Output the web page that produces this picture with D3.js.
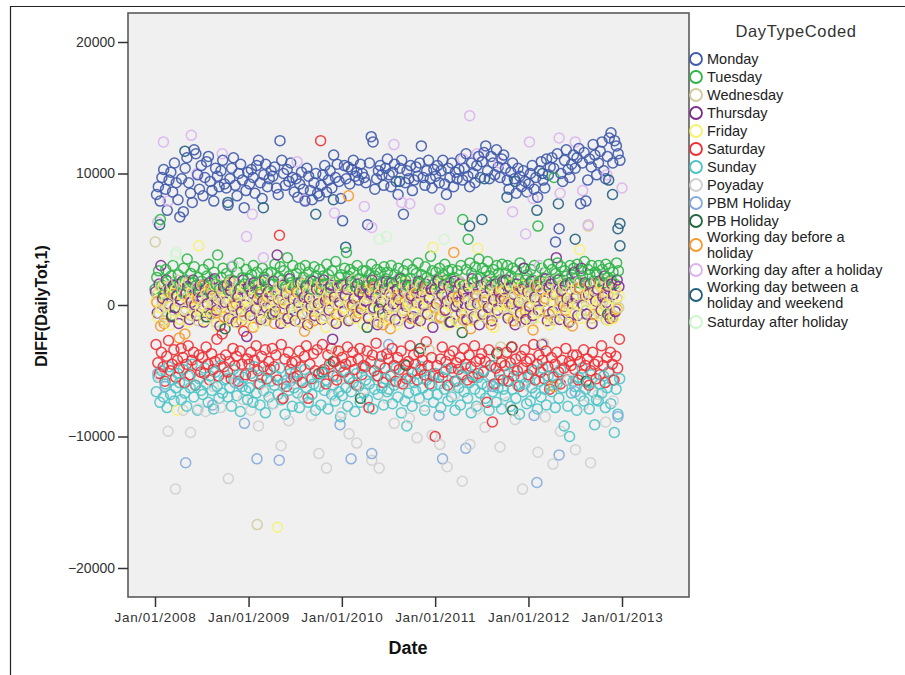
<!DOCTYPE html>
<html>
<head>
<meta charset="utf-8">
<script src="https://cdn.jsdelivr.net/npm/d3@7"></script>
<style>
  body { margin: 0; background: #fff; }
  text { font-family: "Liberation Sans", Arial, sans-serif; }
</style>
</head>
<body>
<div class="viz"></div>
<script>
// values below are in hundreds (DIFF(DailyTot,1) / 100), one per week
const monday = [
  84,90,79,97,103,88,72,95,101,86,108,93,80,
  67,96,71,104,112,93,85,78,118,115,99,88,106,
  83,97,109,113,94,87,79,104,98,90,102,110,92,
  89,76,96,104,112,91,83,100,107,95,74,87,101,
  92,103,97,85,106,110,93,81,99,107,90,96,102,
  98,105,89,84,125,110,100,91,103,94,108,97,86,
  96,82,92,101,88,79,104,98,87,80,93,100,85,
  83,91,99,106,86,95,102,89,114,97,107,94,81,
  64,106,96,105,92,103,110,98,101,95,107,100,97,
  93,61,108,128,124,88,96,102,106,99,91,104,111,
  99,90,101,107,94,84,104,110,69,93,102,96,106,
  87,95,105,98,108,121,97,91,102,110,96,89,103,
  98,106,93,102,110,92,84,104,97,108,90,101,96,
  103,111,95,104,115,98,90,108,100,93,106,113,97,
  109,116,121,102,96,113,108,99,118,105,97,111,114,
  104,95,88,101,108,96,85,104,98,90,102,94,86,
  92,100,106,88,97,82,102,109,95,89,111,99,105,
  112,104,48,115,58,100,94,110,118,103,97,107,114,
  104,112,119,77,108,116,79,95,111,105,122,114,99,
  108,117,124,102,96,113,127,131,108,125,121,115,110
];
const tuesday = [
  12,21,26,65,15,8,27,18,11,22,30,14,7,
  23,16,10,28,19,35,13,24,17,29,15,21,11,
  18,27,13,22,31,9,19,25,16,38,12,21,28,
  15,24,11,19,29,18,8,25,32,14,21,16,27,
  20,12,23,30,15,25,17,10,28,21,13,24,16,
  25,16,31,11,21,29,19,26,14,36,22,17,30,
  14,24,17,28,10,21,30,15,25,19,12,29,22,
  17,27,11,22,16,31,23,13,26,18,33,15,21,
  23,16,28,40,22,27,17,25,14,30,20,13,26,
  18,26,15,23,31,16,22,27,12,25,17,29,20,
  25,17,30,13,23,18,28,21,15,26,19,31,14,
  20,27,15,24,32,17,23,14,29,21,18,37,26,
  16,25,18,28,13,23,31,19,26,17,27,21,14,
  26,18,30,65,15,27,50,32,24,17,29,20,35,
  21,28,16,26,33,22,15,27,18,30,24,19,31,
  18,24,30,14,22,28,16,26,20,32,15,28,19,
  23,16,27,19,30,14,60,18,28,20,25,15,31,
  19,27,97,24,32,20,29,15,26,22,17,30,23,
  28,20,31,17,26,22,33,16,27,23,30,18,25,
  23,30,18,27,17,31,21,28,19,25,16,32,26
];
const wednesday = [
  48,8,-6,14,2,17,-9,10,-1,15,-4,7,19,
  3,-11,12,16,-3,6,18,-8,9,1,13,-12,5,
  15,0,-9,7,17,-4,11,2,-13,16,6,-2,9,
  -6,13,4,18,-10,1,9,15,-3,7,19,-8,3,
  11,-5,16,5,-1,-167,12,-9,17,2,-12,7,0,
  18,4,-7,9,14,-3,5,17,-11,10,1,13,-8,
  7,15,-1,-13,12,3,19,-5,9,-10,14,0,5,
  -3,10,17,4,-8,14,1,7,-12,18,-35,3,12,
  9,-6,5,15,0,-11,12,19,-4,4,10,-1,16,
  1,14,-9,7,18,-3,10,2,-13,15,5,-6,8,
  16,-8,3,12,-1,9,-12,19,5,-4,14,0,7,
  4,11,-3,17,-10,5,15,1,-6,12,-34,18,-1,
  13,-9,8,2,19,-5,7,15,-13,4,12,0,-8,
  7,18,-1,10,-12,14,3,-4,17,5,-9,12,1,
  -5,9,15,4,-11,18,0,10,-7,14,6,-32,19,
  12,1,-8,17,5,-3,9,19,-1,-13,15,3,7,
  0,15,7,-10,12,4,18,-5,10,-29,5,14,-7,
  19,2,-11,8,14,-1,5,17,-8,10,1,-12,15,
  5,12,-1,18,-7,6,15,-4,60,4,-10,10,17,
  10,-6,14,2,19,-11,8,0,15,-8,12,5,-2
];
const thursday = [
  10,-6,16,30,5,-12,19,1,12,-9,15,-2,7,
  -14,4,18,-5,9,14,-11,2,19,0,-8,10,15,
  6,-13,12,1,17,-7,7,20,-4,4,-16,9,14,
  2,15,-10,11,-1,18,-13,6,12,-5,19,0,-24,
  14,-8,9,17,-3,5,12,-11,3,19,-2,10,-7,
  7,18,-5,38,4,-14,15,1,9,-10,20,-3,5,
  -12,10,2,17,-7,6,14,-15,5,-1,18,-8,12,
  1,12,-11,19,3,9,-4,15,-26,6,-14,13,2,
  15,-5,7,12,-12,18,0,5,-9,16,10,-3,8,
  3,14,-10,10,19,-2,6,-15,15,2,-7,12,18,
  -3,9,17,1,-11,12,4,20,-6,10,-1,15,-14,
  7,-9,13,2,18,-12,10,0,16,-7,5,12,-17,
  12,1,19,-10,8,15,-4,3,14,-13,6,18,-1,
  2,16,-6,10,5,-11,13,0,20,-9,8,1,-15,
  15,-7,6,18,-2,12,-12,4,16,-4,10,5,18,
  5,19,-10,13,1,8,-15,16,2,-6,12,28,-11,
  10,-1,18,-8,6,15,-4,12,-30,3,20,-12,13,
  16,-5,8,36,19,-11,11,-1,15,5,-13,17,1,
  25,6,-8,13,28,0,17,-7,8,16,-14,10,3,
  12,18,-4,6,22,2,14,-10,16,8,-5,19,14
];
const friday = [
  3,-9,11,-2,14,-12,5,-1,-15,9,-5,12,-80,
  1,-11,7,-6,16,-13,3,10,-3,-8,5,45,-4,
  -1,-12,9,-5,13,-8,2,15,-16,5,-3,11,-10,
  7,-6,16,-12,3,-2,11,-14,0,9,-9,14,-4,
  -2,5,-10,12,-15,3,9,-6,17,-11,1,7,-8,
  11,-4,0,-169,5,14,-10,2,-13,7,-2,13,-6,
  3,-12,9,-2,16,-8,0,11,-15,5,-4,14,1,
  -6,13,-10,3,-17,7,11,-2,5,-13,1,16,-8,
  9,-2,14,-12,3,0,-6,13,-10,7,-4,11,-15,
  1,-8,5,16,-4,11,-13,0,9,-6,14,-11,3,
  -10,7,-2,13,5,-15,1,11,-4,17,-8,3,0,
  13,-6,9,-12,0,15,-2,7,-14,3,11,-8,44,
  -4,11,1,-10,17,-6,7,-15,0,13,-2,5,-12,
  5,-14,15,0,-8,9,-4,17,-12,1,13,43,-6,
  -8,3,11,-2,15,-10,5,-17,9,0,-6,13,1,
  11,-4,0,16,-12,7,-2,13,-8,3,15,-10,5,
  -2,9,-14,5,15,-6,0,11,-10,17,-4,7,-15,
  7,-12,3,13,-2,9,-8,15,0,-14,5,11,-4,
  -6,13,1,42,-10,16,-4,7,11,-15,2,9,-2,
  3,-8,15,-4,11,0,-12,17,5,-10,13,-2,7
];
const saturday = [
  -30,-44,-52,-36,-47,-58,-39,-27,-50,-45,-34,-55,-42,
  -48,-33,-40,-59,-45,-31,-53,-42,-36,-61,-46,-38,-51,
  -40,-52,-32,-45,-57,-37,-49,-43,-26,-54,-41,-22,-47,
  -38,-51,-43,-56,-33,-46,-39,-58,-35,-45,-20,-53,-41,
  -45,-36,-54,-42,-31,-50,-60,-39,-47,-34,-56,-43,-49,
  -33,-47,-38,-57,53,-30,-71,-41,-62,-36,-49,-44,-55,
  -43,-54,-35,-47,-59,-39,-31,-71,-45,-56,-37,-50,-34,
  -52,125,-30,-49,-60,-38,-45,-33,-54,-43,-57,-35,-47,
  -40,-51,-45,-32,-56,-43,-36,-49,-61,-41,-33,-53,-46,
  -47,-35,-78,-43,-38,-50,-29,-54,-45,-39,-59,-48,-37,
  -41,-54,-33,-46,-58,-40,-49,-35,-60,-45,-56,-43,-31,
  -51,-38,-45,-57,-36,-49,-42,-53,-28,-46,-60,-40,-54,
  -100,-46,-55,-41,-32,-51,-43,-61,-38,-48,-35,-58,-44,
  -49,-40,-53,-33,-45,-57,-38,-47,-55,-31,-43,-52,-41,
  -37,-51,-43,-74,-34,-46,-89,-60,-48,-36,-53,-44,-57,
  -46,-36,-58,-44,-32,-54,-41,-50,-62,-39,-48,-34,-43,
  -53,-41,-49,-30,-57,-45,-38,-51,-42,-56,-35,-47,-64,
  -40,-55,-45,-36,-51,-60,-42,-48,-33,-57,-43,-46,-38,
  -49,-38,-57,-43,-53,-34,-46,-41,-61,-50,-36,-45,-56,
  -43,-53,-31,-46,-59,-40,-51,-36,-45,-57,-39,-48,-26
];
const sunday = [
  -66,-55,-74,-50,-70,-60,-78,-47,-68,-57,-73,-63,-52,
  -59,-72,-49,-67,-77,-54,-63,-45,-70,-61,-80,-56,-65,
  -68,-48,-60,-74,-54,-65,-79,-51,-62,-71,-46,-67,-57,
  -56,-70,-63,-77,-49,-59,-69,-53,-81,-62,-55,-65,-72,
  -63,-52,-74,-47,-67,-60,-76,-55,-65,-82,-50,-70,-58,
  -75,-61,-54,-68,-48,-72,-60,-83,-57,-65,-52,-77,-63,
  -51,-67,-78,-58,-70,-49,-63,-74,-55,-68,-60,-80,-53,
  -62,-76,-52,-65,-57,-79,-47,-68,-61,-73,-54,-66,-85,
  -69,-50,-63,-77,-55,-66,-59,-81,-52,-62,-74,-48,-67,
  -57,-72,-60,-51,-79,-64,-54,-68,-45,-63,-76,-56,-66,
  -64,-53,-75,-61,-48,-70,-59,-82,-51,-73,-92,-67,-56,
  -77,-59,-65,-52,-71,-47,-63,-80,-57,-68,-54,-61,-74,
  -52,-68,-60,-78,-55,-64,-49,-73,-62,-70,-51,-80,-58,
  -63,-76,-54,-66,-48,-71,-59,-82,-53,-64,-77,-55,-67,
  -60,-50,-71,-62,-80,-54,-66,-46,-74,-63,-57,-79,-64,
  -69,-58,-52,-77,-64,-49,-71,-61,-83,-55,-66,-60,-75,
  -55,-73,-63,-50,-67,-79,-58,-70,-48,-64,-76,-54,-61,
  -66,-54,-78,-60,-71,-49,-63,-92,-57,-77,-100,-67,-58,
  -62,-80,-55,-69,-48,-73,-64,-59,-79,-53,-66,-91,-72,
  -73,-60,-67,-54,-78,-63,-51,-75,-57,-97,-64,-83,-56
];
// one per full moon, Jan 2008 .. Jan 2013
const poyaday = [
  -55,-96,-140,-80,-97,-79,-81,-62,-78,-132,-58,-72,
  -80,-92,-66,-75,-107,-88,-60,-70,-84,-113,-124,-69,
  -82,-98,-105,-64,-118,-124,-71,-90,-59,-86,-101,-77,
  -99,-106,-123,-68,-134,-106,-79,-93,-62,-108,-74,-87,
  -140,-63,-112,-85,-121,-96,-57,-110,-76,-120,-68,-89,-73
];
// sparse day types: decimal year + value (hundreds)
const pbmYears  = [2008.03,2008.11,2008.33,2008.62,2008.9,2008.96,2009.09,2009.33,2009.45,2009.98,2010.1,2010.32,2010.5,2011.04,2011.08,2011.33,2011.62,2012.06,2012.09,2012.33,2012.5,2012.96];
const pbmValues = [-52,-62,-120,-76,-60,-90,-117,-118,-58,-91,-117,-113,-30,-84,-117,-109,-62,-84,-135,-114,-66,-85];
const pbYears   = [2008.18,2008.75,2009.26,2009.79,2009.91,2010.2,2010.27,2010.69,2010.84,2011.16,2011.29,2011.66,2011.82,2011.83,2012.62,2012.85,2008.55,2010.4];
const pbValues  = [-8,-18,-7,-51,-43,-71,-17,-46,-33,-13,-21,-37,-32,-80,-58,-7,-9,-3];
const beforeYears = [
  2008.02,2008.06,2008.1,2008.15,2008.2,2008.26,2008.32,2008.38,2008.46,2008.52,2008.6,2008.66,2008.74,2008.8,2008.87,2008.93,
  2009.05,2009.12,2009.2,2009.28,2009.38,2009.45,2009.52,2009.6,2009.7,2009.78,2009.86,2009.94,
  2010.07,2010.12,2010.18,2010.26,2010.35,2010.44,2010.52,2010.6,2010.68,2010.74,2010.8,2010.9,
  2011.0,2011.06,2011.2,2011.25,2011.3,2011.38,2011.45,2011.52,2011.6,2011.7,2011.78,2011.84,2011.9,2011.97,
  2012.05,2012.1,2012.18,2012.22,2012.27,2012.34,2012.4,2012.47,2012.55,2012.62,2012.7,2012.76,2012.82,2012.9,2012.95];
const beforeValues = [
  2,-16,-14,10,8,-25,-22,5,5,15,12,-6,-9,18,1,-12,
  -17,8,6,-14,-3,12,10,-20,-12,16,4,-7,
  83,-1,-6,11,14,-15,-18,7,3,-10,9,13,
  -2,-9,40,6,-11,-18,7,2,-15,10,2,-12,11,-5,
  -19,14,5,-7,-62,3,-4,-16,13,8,-7,17,8,-10,-3];
const afterYears  = [2008.03,2008.09,2008.14,2008.39,2008.45,2008.72,2008.84,2008.98,2009.04,2009.16,2009.52,2009.6,2009.92,2010.24,2010.32,2010.56,2010.64,2010.73,2011.05,2011.3,2011.37,2011.45,2011.69,2011.83,2011.97,2012.01,2012.05,2012.12,2012.33,2012.34,2012.5,2012.58,2012.64,2012.84,2013.0];
const afterValues = [63,124,79,129,100,115,30,52,69,36,109,80,70,75,59,122,78,77,73,111,144,115,108,71,54,124,81,30,127,85,124,87,61,99,89];
const betweenYears  = [2008.05,2008.32,2008.78,2009.16,2009.72,2009.91,2010.04,2010.62,2011.37,2011.5,2011.53,2011.77,2011.86,2012.09,2012.15,2012.32,2012.5,2012.86,2012.9,2012.96,2012.98,2012.98];
const betweenValues = [61,117,78,74,69,80,44,94,60,65,96,82,94,72,100,77,50,95,84,58,62,45];
const satAfterYears  = [2008.22,2008.23,2008.94,2009.5,2010.4,2010.48,2011.1,2011.4,2011.7,2012.2,2012.6];
const satAfterValues = [38,40,29,-3,50,52,50,2,-40,31,-5];

const dayTypes = ["Monday","Tuesday","Wednesday","Thursday","Friday","Saturday","Sunday","Poyaday",
  "PBM Holiday","PB Holiday","Working day before a holiday","Working day after a holiday",
  "Working day between a holiday and weekend","Saturday after holiday"];
const colors = ["#3f59ab","#2fb548","#d2cc9c","#7e2c8f","#f7f26a","#ee3035","#4cc4c6","#cfcfcf",
  "#84aadb","#23683c","#f59a2c","#dcb2ef","#20607e","#cdf6cd"];
const legendLines = [["Monday"],["Tuesday"],["Wednesday"],["Thursday"],["Friday"],["Saturday"],["Sunday"],
  ["Poyaday"],["PBM Holiday"],["PB Holiday"],["Working day before a","holiday"],["Working day after a holiday"],
  ["Working day between a","holiday and weekend"],["Saturday after holiday"]];
const xTickYears = [2008,2009,2010,2011,2012,2013];
const yTicks = [-20000,-10000,0,10000,20000];

const W = 905, H = 675;
const color = d3.scaleOrdinal().domain(dayTypes).range(colors);

const fromYear = y => {
  const yr = Math.floor(y);
  return d3.timeDay.offset(new Date(yr, 0, 1), Math.round((y - yr) * 365));
};

// build points
let pts = [];
const weekly = (vals, start, type) => vals.forEach((v, i) =>
  pts.push({ date: d3.timeDay.offset(start, i * 7), value: v * 100, type }));
weekly(monday, new Date(2008, 0, 7), "Monday");
weekly(tuesday, new Date(2008, 0, 1), "Tuesday");
weekly(wednesday, new Date(2008, 0, 2), "Wednesday");
weekly(thursday, new Date(2008, 0, 3), "Thursday");
weekly(friday, new Date(2008, 0, 4), "Friday");
weekly(saturday, new Date(2008, 0, 5), "Saturday");
weekly(sunday, new Date(2008, 0, 6), "Sunday");
poyaday.forEach((v, i) => pts.push({
  date: d3.timeDay.offset(new Date(2008, 0, 22), Math.round(i * 29.53)), value: v * 100, type: "Poyaday" }));
const sparse = (ys, vs, type) => ys.forEach((y, i) => pts.push({ date: fromYear(y), value: vs[i] * 100, type }));
sparse(pbmYears, pbmValues, "PBM Holiday");
sparse(pbYears, pbValues, "PB Holiday");
sparse(beforeYears, beforeValues, "Working day before a holiday");
sparse(afterYears, afterValues, "Working day after a holiday");
sparse(betweenYears, betweenValues, "Working day between a holiday and weekend");
sparse(satAfterYears, satAfterValues, "Saturday after holiday");
pts.sort((a, b) => a.date - b.date);

const svg = d3.select(".viz").append("svg").attr("width", W).attr("height", H);

// outer frame
svg.append("path").attr("d", `M10.5,${H} V6.5 H${W}`)
  .attr("fill", "none").attr("stroke", "#222").attr("stroke-width", 1.2);

const plot = { l: 128, t: 13, r: 689, b: 597 };

const x = d3.scaleTime()
  .domain([new Date(2008, 0, 1), new Date(2013, 0, 1)])
  .range([155, 622]);
const y = d3.scaleLinear().domain([-20000, 20000]).range([568, 42]);

svg.append("rect")
  .attr("x", plot.l).attr("y", plot.t)
  .attr("width", plot.r - plot.l).attr("height", plot.b - plot.t)
  .attr("fill", "#f0f0f0").attr("stroke", "#5a5a5a").attr("stroke-width", 1.6);

// y axis
const yAxis = svg.append("g").attr("transform", `translate(${plot.l},0)`)
  .call(d3.axisLeft(y).tickValues(yTicks).tickSize(10).tickFormat(d3.format("d")));
yAxis.select(".domain").remove();
yAxis.selectAll("line").attr("stroke", "#333").attr("stroke-width", 1.5);
yAxis.selectAll("text").attr("font-size", 14).attr("fill", "#333")
  .attr("font-family", "Liberation Sans, Arial, sans-serif");

// x axis
const xAxis = svg.append("g").attr("transform", `translate(0,${plot.b})`)
  .call(d3.axisBottom(x).tickValues(xTickYears.map(yr => new Date(yr, 0, 1)))
    .tickSize(10).tickFormat(d3.timeFormat("%b/%d/%Y")));
xAxis.select(".domain").remove();
xAxis.selectAll("line").attr("stroke", "#333").attr("stroke-width", 1.5);
xAxis.selectAll("text").attr("font-size", 13.5).attr("fill", "#333").attr("dy", "0.9em")
  .attr("letter-spacing", 0.7)
  .attr("font-family", "Liberation Sans, Arial, sans-serif");

// points
svg.append("g").selectAll("circle")
  .data(pts)
  .enter()
  .append("circle")
  .attr("cx", d => x(d.date))
  .attr("cy", d => y(d.value))
  .attr("r", 5)
  .attr("fill", "none")
  .attr("stroke", d => color(d.type))
  .attr("stroke-width", 1.5)
  .attr("opacity", 0.9);

// axis titles
svg.append("text").attr("x", 408).attr("y", 654).attr("text-anchor", "middle")
  .attr("font-size", 18).attr("font-weight", "bold").attr("fill", "#111").text("Date");
svg.append("text").attr("transform", "translate(47,306) rotate(-90)").attr("text-anchor", "middle")
  .attr("font-size", 16).attr("font-weight", "bold").attr("fill", "#111").text("DIFF(DailyTot,1)");

// legend
svg.append("text").attr("x", 796).attr("y", 37).attr("text-anchor", "middle")
  .attr("font-size", 16.5).attr("fill", "#333").attr("letter-spacing", 0.6).text("DayTypeCoded");
const legendY = [59, 77, 95, 113, 131, 149, 167, 185, 203, 221, 245, 270, 295, 322];
const lg = svg.append("g").selectAll("g")
  .data(dayTypes)
  .enter()
  .append("g")
  .attr("transform", (d, i) => `translate(0,${legendY[i]})`);
lg.append("circle").attr("cx", 696).attr("r", 6)
  .attr("fill", "none").attr("stroke", d => color(d)).attr("stroke-width", 1.8);
lg.each(function (d, i) {
  const lines = legendLines[i];
  const y0 = lines.length === 1 ? 5 : -3;
  lines.forEach((ln, j) => d3.select(this).append("text")
    .attr("x", 707).attr("y", y0 + j * 16)
    .attr("font-size", 14.5).attr("fill", "#222").text(ln));
});
</script>
</body>
</html>
